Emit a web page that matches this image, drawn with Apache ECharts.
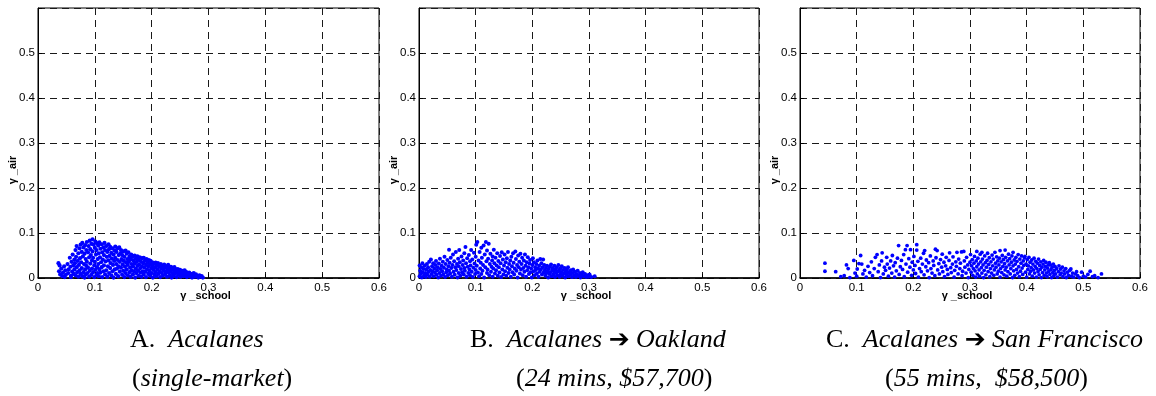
<!DOCTYPE html>
<html><head><meta charset="utf-8">
<script src="https://cdn.jsdelivr.net/npm/echarts@6/dist/echarts.min.js"></script>
<style>html,body{margin:0;padding:0;background:#fff}#c{width:1156px;height:396px}</style>
</head><body><div id="c"></div>
<script>
// ---------- data ----------
const xLabelName = 'γ _school';
const yLabelName = 'γ _air';
const xTickValues = [0, 0.1, 0.2, 0.3, 0.4, 0.5, 0.6];
const yTickValues = [0, 0.1, 0.2, 0.3, 0.4, 0.5];

const panelA = [
[0.036,0.033],[0.038,0.028],[0.037,0.015],[0.039,0.008],[0.041,0.021],[0.043,0.004],[0.044,0.012],[0.046,0.026],[0.048,0.017],[0.049,0.007],[0.047,0.002],[0.052,0.031],[0.053,0.011],[0.054,0.019],
[0.056,0.045],[0.057,0.025],[0.058,0.005],[0.059,0.036],[0.06,0.014],[0.061,0.052],[0.062,0.028],[0.063,0.009],[0.064,0.041],[0.064,0.019],[0.065,0.033],[0.058,0.002],
[0.066,0.062],[0.066,0.006],[0.067,0.047],[0.068,0.024],[0.068,0.071],[0.069,0.013],[0.07,0.038],[0.071,0.055],[0.071,0.003],[0.072,0.029],[0.073,0.066],[0.073,0.017],[0.074,0.044],[0.075,0.009],[0.075,0.074],
[0.076,0.035],[0.077,0.058],[0.077,0.022],[0.078,0.078],[0.078,0.004],[0.079,0.048],[0.08,0.013],[0.08,0.068],[0.081,0.031],[0.082,0.054],[0.082,0.001],[0.083,0.073],[0.083,0.019],[0.084,0.042],[0.085,0.062],[0.085,0.027],[0.084,0.008],
[0.086,0.08],[0.086,0.036],[0.087,0.011],[0.088,0.057],[0.088,0.023],[0.089,0.071],[0.09,0.046],[0.09,0.003],[0.091,0.083],[0.091,0.016],[0.092,0.064],[0.092,0.032],[0.093,0.051],[0.094,0.076],[0.094,0.007],[0.095,0.039],[0.095,0.021],
[0.096,0.086],[0.096,0.059],[0.097,0.013],[0.097,0.045],[0.098,0.074],[0.099,0.028],[0.099,0.002],[0.1,0.067],[0.1,0.036],[0.101,0.081],[0.101,0.018],[0.102,0.052],[0.103,0.007],[0.103,0.062],[0.104,0.024],[0.104,0.077],[0.105,0.042],[0.105,0.011],
[0.106,0.072],[0.106,0.031],[0.107,0.055],[0.107,0.004],[0.108,0.079],[0.108,0.019],[0.109,0.046],[0.11,0.065],[0.11,0.012],[0.111,0.035],[0.112,0.075],[0.112,0.024],[0.113,0.057],[0.113,0.002],[0.114,0.041],[0.115,0.068],[0.115,0.015],
[0.116,0.051],[0.116,0.028],[0.117,0.078],[0.118,0.008],[0.118,0.062],[0.119,0.037],[0.12,0.071],[0.12,0.017],[0.121,0.047],[0.122,0.003],[0.122,0.058],[0.123,0.026],[0.124,0.075],[0.124,0.039],[0.125,0.011],[0.125,0.064],
[0.126,0.049],[0.127,0.022],[0.127,0.069],[0.128,0.033],[0.129,0.006],[0.129,0.056],[0.13,0.043],[0.131,0.015],[0.131,0.066],[0.132,0.029],[0.133,0.052],[0.133,0.001],[0.134,0.038],[0.135,0.061],[0.135,0.019],
[0.136,0.07],[0.136,0.045],[0.137,0.009],[0.138,0.031],[0.138,0.058],[0.139,0.021],[0.14,0.066],[0.14,0.04],[0.141,0.004],[0.142,0.051],[0.142,0.026],[0.143,0.068],[0.144,0.014],[0.144,0.036],[0.145,0.055],
[0.146,0.062],[0.146,0.023],[0.147,0.042],[0.148,0.007],[0.148,0.051],[0.149,0.03],[0.15,0.059],[0.15,0.016],[0.151,0.038],[0.152,0.002],[0.152,0.047],[0.153,0.025],[0.154,0.061],[0.154,0.011],[0.155,0.034],
[0.156,0.054],[0.156,0.019],[0.157,0.042],[0.158,0.006],[0.158,0.029],[0.159,0.057],[0.16,0.036],[0.161,0.013],[0.161,0.048],[0.162,0.023],[0.163,0.003],[0.163,0.041],[0.164,0.052],[0.165,0.017],[0.165,0.031],
[0.166,0.047],[0.167,0.008],[0.167,0.026],[0.168,0.039],[0.169,0.015],[0.17,0.05],[0.17,0.032],[0.171,0.001],[0.172,0.043],[0.172,0.021],[0.173,0.011],[0.174,0.036],[0.175,0.048],[0.175,0.027],
[0.176,0.017],[0.177,0.041],[0.177,0.005],[0.178,0.03],[0.179,0.046],[0.18,0.022],[0.18,0.012],[0.181,0.037],[0.182,0.003],[0.183,0.044],[0.183,0.026],[0.184,0.015],[0.185,0.033],
[0.186,0.045],[0.186,0.008],[0.187,0.023],[0.188,0.038],[0.189,0.014],[0.19,0.029],[0.19,0.002],[0.191,0.042],[0.192,0.019],[0.193,0.034],[0.194,0.009],[0.194,0.026],[0.195,0.04],
[0.196,0.016],[0.197,0.031],[0.197,0.005],[0.198,0.038],[0.199,0.022],[0.2,0.011],[0.201,0.035],[0.201,0.027],[0.202,0.001],[0.203,0.018],[0.204,0.032],[0.205,0.008],
[0.206,0.024],[0.207,0.034],[0.207,0.013],[0.208,0.004],[0.209,0.029],[0.21,0.019],[0.211,0.033],[0.212,0.009],[0.213,0.025],[0.214,0.015],[0.215,0.002],
[0.216,0.031],[0.217,0.021],[0.218,0.011],[0.219,0.027],[0.22,0.005],[0.221,0.017],[0.222,0.03],[0.223,0.023],[0.224,0.009],[0.225,0.014],
[0.226,0.026],[0.227,0.003],[0.228,0.019],[0.229,0.029],[0.23,0.012],[0.231,0.022],[0.232,0.006],[0.233,0.016],[0.234,0.025],[0.235,0.001],
[0.236,0.011],[0.237,0.021],[0.238,0.004],[0.239,0.017],[0.24,0.024],[0.241,0.009],[0.242,0.014],[0.243,0.019],[0.244,0.002],[0.245,0.012],
[0.246,0.02],[0.247,0.007],[0.248,0.015],[0.249,0.01],[0.25,0.018],[0.251,0.003],[0.252,0.013],[0.254,0.008],[0.255,0.016],
[0.256,0.004],[0.257,0.011],[0.258,0.017],[0.26,0.007],[0.261,0.013],[0.262,0.002],[0.263,0.01],[0.265,0.006],
[0.266,0.012],[0.268,0.004],[0.269,0.009],[0.271,0.001],[0.272,0.007],[0.274,0.011],[0.276,0.003],[0.278,0.008],[0.28,0.005],[0.282,0.001],[0.284,0.006],[0.286,0.003],[0.288,0.004],[0.29,0.001]
];

const panelB = [
[0.001,0.028],[0.001,0.004],[0.002,0.016],[0.003,0.009],[0.004,0.024],[0.005,0.001],[0.006,0.033],[0.006,0.013],[0.008,0.02],[0.009,0.006],[0.01,0.027],
[0.011,0.011],[0.012,0.002],[0.013,0.019],[0.014,0.031],[0.015,0.007],[0.016,0.024],[0.017,0.014],[0.018,0.036],[0.019,0.003],[0.02,0.018],
[0.021,0.041],[0.022,0.009],[0.023,0.026],[0.024,0.015],[0.025,0.033],[0.026,0.004],[0.027,0.021],[0.028,0.012],[0.029,0.029],[0.03,0.038],
[0.031,0.007],[0.032,0.017],[0.033,0.024],[0.034,0.001],[0.035,0.032],[0.036,0.011],[0.037,0.043],[0.038,0.02],[0.039,0.005],[0.04,0.027],
[0.041,0.015],[0.042,0.036],[0.043,0.008],[0.044,0.023],[0.045,0.047],[0.046,0.002],[0.047,0.031],[0.048,0.013],[0.049,0.019],[0.05,0.04],
[0.051,0.006],[0.052,0.026],[0.053,0.063],[0.053,0.016],[0.054,0.034],[0.055,0.01],[0.056,0.045],[0.057,0.022],[0.058,0.003],[0.059,0.029],[0.06,0.052],
[0.061,0.014],[0.062,0.037],[0.063,0.007],[0.064,0.024],[0.065,0.058],[0.066,0.018],[0.067,0.031],[0.068,0.001],[0.069,0.043],[0.07,0.011],[0.07,0.026],
[0.071,0.062],[0.072,0.035],[0.073,0.005],[0.074,0.02],[0.075,0.048],[0.076,0.013],[0.077,0.029],[0.078,0.039],[0.079,0.008],[0.08,0.055],[0.08,0.022],
[0.081,0.016],[0.082,0.069],[0.083,0.033],[0.084,0.003],[0.085,0.044],[0.086,0.025],[0.087,0.011],[0.088,0.051],[0.089,0.019],[0.09,0.037],[0.09,0.006],
[0.091,0.028],[0.092,0.062],[0.093,0.014],[0.094,0.041],[0.095,0.002],[0.096,0.023],[0.097,0.056],[0.098,0.032],[0.099,0.009],[0.1,0.047],[0.1,0.018],
[0.101,0.074],[0.102,0.027],[0.103,0.08],[0.104,0.012],[0.105,0.039],[0.106,0.004],[0.107,0.058],[0.108,0.021],[0.109,0.034],[0.11,0.067],[0.11,0.009],
[0.111,0.045],[0.112,0.016],[0.113,0.029],[0.114,0.072],[0.115,0.001],[0.116,0.052],[0.117,0.024],[0.118,0.08],[0.119,0.037],[0.12,0.011],[0.12,0.061],
[0.121,0.019],[0.122,0.043],[0.123,0.076],[0.124,0.006],[0.125,0.031],[0.126,0.054],[0.127,0.014],[0.128,0.025],[0.129,0.039],[0.13,0.003],[0.13,0.048],
[0.131,0.021],[0.132,0.063],[0.133,0.033],[0.134,0.01],[0.135,0.045],[0.136,0.017],[0.137,0.028],[0.138,0.055],[0.139,0.005],[0.14,0.038],
[0.141,0.024],[0.142,0.012],[0.143,0.049],[0.144,0.033],[0.145,0.002],[0.146,0.057],[0.147,0.019],[0.148,0.041],[0.149,0.008],[0.15,0.028],
[0.151,0.052],[0.152,0.015],[0.153,0.035],[0.154,0.005],[0.155,0.044],[0.156,0.023],[0.157,0.058],[0.158,0.011],[0.159,0.031],[0.16,0.019],
[0.161,0.039],[0.162,0.003],[0.163,0.047],[0.164,0.026],[0.165,0.013],[0.166,0.055],[0.167,0.034],[0.168,0.008],[0.169,0.021],[0.17,0.059],
[0.171,0.042],[0.172,0.016],[0.173,0.029],[0.174,0.001],[0.175,0.05],[0.176,0.024],[0.177,0.036],[0.178,0.01],[0.179,0.054],[0.18,0.019],
[0.181,0.031],[0.182,0.045],[0.183,0.006],[0.184,0.022],[0.185,0.039],[0.186,0.014],[0.187,0.052],[0.188,0.027],[0.189,0.003],[0.19,0.035],
[0.191,0.017],[0.192,0.046],[0.193,0.024],[0.194,0.009],[0.195,0.032],[0.196,0.04],[0.197,0.013],[0.198,0.021],[0.199,0.001],[0.2,0.029],
[0.201,0.044],[0.202,0.015],[0.203,0.035],[0.204,0.006],[0.205,0.024],[0.206,0.018],[0.207,0.031],[0.208,0.01],[0.209,0.039],[0.21,0.021],
[0.211,0.003],[0.212,0.027],[0.213,0.014],[0.214,0.042],[0.215,0.019],[0.216,0.033],[0.217,0.008],[0.218,0.024],[0.219,0.041],[0.22,0.012],
[0.221,0.029],[0.222,0.017],[0.223,0.005],[0.224,0.022],[0.225,0.011],[0.226,0.027],[0.227,0.015],[0.228,0.001],[0.229,0.02],[0.23,0.009],
[0.231,0.025],[0.232,0.013],[0.233,0.03],[0.234,0.004],[0.235,0.018],[0.236,0.022],[0.237,0.008],[0.238,0.015],[0.239,0.027],[0.24,0.002],
[0.241,0.019],[0.242,0.011],[0.243,0.024],[0.244,0.006],[0.245,0.014],[0.246,0.029],[0.247,0.017],[0.248,0.003],[0.249,0.021],[0.25,0.009],
[0.251,0.013],[0.252,0.026],[0.253,0.005],[0.254,0.018],[0.256,0.01],[0.257,0.022],[0.258,0.001],[0.259,0.015],[0.26,0.007],
[0.261,0.019],[0.262,0.011],[0.263,0.024],[0.264,0.004],[0.266,0.014],[0.267,0.008],[0.268,0.017],[0.27,0.002],
[0.271,0.011],[0.272,0.019],[0.274,0.006],[0.275,0.014],[0.277,0.002],[0.278,0.009],[0.28,0.016],[0.282,0.005],[0.284,0.011],[0.285,0.001],[0.287,0.008],[0.289,0.013],[0.291,0.004],[0.293,0.009],[0.295,0.002],[0.297,0.006],[0.299,0.003],[0.301,0.008],[0.304,0.002],[0.31,0.004]
];

const panelC = [
[0.044,0.033],[0.044,0.015],[0.063,0.014],[0.072,0.003],[0.078,0.005],[0.082,0.029],[0.085,0.021],[0.088,0.001],[0.095,0.039],[0.097,0.011],[0.1,0.004],
[0.101,0.02],[0.104,0.032],[0.107,0.05],[0.109,0.031],[0.111,0.009],[0.114,0.017],[0.117,0.002],[0.12,0.026],[0.123,0.012],[0.126,0.036],[0.128,0.005],[0.131,0.021],[0.133,0.046],[0.136,0.052],[0.138,0.014],[0.14,0.029],[0.142,0.001],[0.144,0.038],[0.145,0.056],[0.147,0.009],[0.149,0.024],
[0.151,0.017],[0.153,0.046],[0.154,0.031],[0.156,0.004],[0.158,0.022],[0.16,0.038],[0.162,0.011],[0.163,0.05],[0.165,0.027],[0.167,0.002],[0.168,0.034],[0.17,0.016],[0.172,0.044],[0.174,0.072],[0.175,0.008],[0.177,0.025],[0.179,0.039],[0.181,0.019],[0.183,0.052],[0.184,0.003],[0.186,0.063],[0.187,0.031],[0.189,0.072],[0.19,0.013],[0.192,0.043],[0.194,0.024],[0.195,0.063],[0.197,0.006],[0.198,0.035],[0.2,0.018],
[0.201,0.048],[0.203,0.028],[0.204,0.01],[0.206,0.074],[0.206,0.062],[0.208,0.037],[0.209,0.002],[0.211,0.021],[0.213,0.044],[0.214,0.014],[0.216,0.031],[0.218,0.055],[0.219,0.007],[0.22,0.061],[0.222,0.025],[0.223,0.04],[0.225,0.016],[0.227,0.034],[0.228,0.001],[0.23,0.049],[0.231,0.021],[0.233,0.011],[0.235,0.038],[0.236,0.028],[0.238,0.005],[0.239,0.064],[0.24,0.045],[0.242,0.061],[0.243,0.018],[0.245,0.032],[0.246,0.009],[0.248,0.041],[0.25,0.024],
[0.251,0.053],[0.252,0.014],[0.254,0.035],[0.255,0.003],[0.257,0.027],[0.258,0.046],[0.26,0.019],[0.261,0.008],[0.263,0.039],[0.264,0.056],[0.266,0.023],[0.267,0.012],[0.269,0.031],[0.27,0.047],[0.272,0.002],[0.273,0.017],[0.275,0.036],[0.276,0.026],[0.277,0.057],[0.279,0.009],[0.28,0.042],[0.282,0.021],[0.283,0.033],[0.285,0.058],[0.286,0.005],[0.287,0.015],[0.289,0.059],[0.29,0.038],[0.291,0.024],[0.293,0.011],[0.294,0.046],[0.296,0.029],[0.297,0.001],[0.298,0.019],[0.3,0.035],
[0.301,0.052],[0.302,0.013],[0.303,0.027],[0.304,0.041],[0.305,0.006],[0.306,0.021],[0.307,0.033],[0.308,0.048],[0.309,0.016],[0.31,0.002],[0.311,0.038],[0.312,0.059],[0.312,0.025],[0.313,0.009],[0.314,0.044],[0.315,0.031],[0.316,0.018],[0.317,0.004],[0.318,0.053],[0.319,0.036],[0.32,0.023],[0.321,0.057],[0.321,0.011],[0.322,0.042],[0.323,0.029],[0.324,0.001],[0.325,0.017],[0.326,0.049],[0.327,0.034],[0.328,0.007],[0.329,0.024],[0.33,0.039],[0.331,0.055],[0.332,0.014],[0.333,0.03],[0.334,0.045],[0.335,0.003],[0.336,0.021],[0.337,0.036],[0.338,0.011],[0.339,0.051],[0.34,0.027],[0.341,0.042],[0.342,0.006],[0.343,0.018],[0.344,0.057],[0.345,0.033],[0.346,0.024],[0.347,0.047],[0.348,0.009],[0.349,0.038],[0.35,0.015],
[0.351,0.029],[0.352,0.044],[0.353,0.061],[0.353,0.002],[0.354,0.021],[0.355,0.036],[0.356,0.012],[0.357,0.05],[0.358,0.026],[0.359,0.041],[0.36,0.007],[0.361,0.032],[0.362,0.062],[0.362,0.018],[0.363,0.046],[0.364,0.024],[0.365,0.004],[0.366,0.038],[0.367,0.014],[0.368,0.053],[0.369,0.029],[0.37,0.043],[0.371,0.009],[0.372,0.021],[0.373,0.035],[0.374,0.049],[0.375,0.001],[0.376,0.057],[0.376,0.027],[0.377,0.016],[0.378,0.04],[0.379,0.006],[0.38,0.031],[0.381,0.046],[0.382,0.019],[0.383,0.037],[0.384,0.011],[0.385,0.052],[0.386,0.025],[0.387,0.003],[0.388,0.042],[0.389,0.015],[0.39,0.033],[0.391,0.049],[0.392,0.022],[0.393,0.008],[0.394,0.038],[0.395,0.028],[0.396,0.045],[0.397,0.048],[0.398,0.013],[0.399,0.031],[0.4,0.002],
[0.401,0.041],[0.402,0.019],[0.403,0.027],[0.404,0.046],[0.405,0.009],[0.406,0.035],[0.407,0.015],[0.408,0.023],[0.409,0.04],[0.41,0.004],[0.411,0.031],[0.412,0.018],[0.413,0.044],[0.414,0.011],[0.415,0.026],[0.416,0.037],[0.417,0.002],[0.418,0.021],[0.419,0.033],[0.42,0.014],[0.421,0.042],[0.422,0.007],[0.423,0.028],[0.424,0.019],[0.425,0.036],[0.426,0.001],[0.427,0.024],[0.428,0.012],[0.429,0.031],[0.43,0.039],[0.431,0.006],[0.432,0.018],[0.433,0.026],[0.434,0.035],[0.435,0.011],[0.436,0.003],[0.437,0.022],[0.438,0.029],[0.439,0.015],[0.44,0.034],[0.441,0.008],[0.442,0.029],[0.443,0.019],[0.444,0.001],[0.445,0.024],[0.446,0.012],[0.447,0.031],[0.448,0.005],[0.449,0.017],[0.45,0.026],
[0.451,0.009],[0.453,0.021],[0.454,0.002],[0.456,0.014],[0.457,0.027],[0.459,0.007],[0.46,0.02],[0.461,0.011],[0.463,0.024],[0.464,0.003],[0.466,0.016],[0.467,0.009],[0.469,0.021],[0.47,0.001],[0.472,0.013],[0.474,0.006],[0.476,0.017],[0.478,0.02],[0.479,0.004],[0.481,0.011],[0.483,0.002],[0.486,0.009],[0.488,0.014],[0.49,0.005],[0.493,0.001],[0.497,0.013],[0.5,0.004],[0.504,0.002],[0.508,0.008],[0.512,0.015],[0.516,0.003],[0.52,0.005],[0.526,0.001],[0.532,0.009]
];

const captionLetters = ['A.', 'B.', 'C.'];
const captionFrom = ['Acalanes', 'Acalanes', 'Acalanes'];
const captionTo = [null, 'Oakland', 'San Francisco'];
const captionSub = ['single-market', '24 mins, $57,700', '55 mins,  $58,500'];

// ---------- layout ----------
const panels = [
  {left: 38, width: 341, data: panelA, size: 4.2, cap1X: 130, cap2X: 132},
  {left: 419, width: 340, data: panelB, size: 4.0, cap1X: 470, cap2X: 516},
  {left: 800, width: 340, data: panelC, size: 3.8, cap1X: 826, cap2X: 885}
];
const TOP = 8, H = 270;

function fmt(v){ return v === 0 ? '0' : String(Math.round(v * 10) / 10); }

const tickFont = {fontFamily: 'Liberation Sans, Arial, sans-serif', fontSize: 11.5, color: '#000'};
const dash = {color: '#1a1a1a', width: 1, type: [7, 5]};

const grids = [], xAxes = [], yAxes = [], series = [], graphics = [];
panels.forEach((p, i) => {
  grids.push({left: p.left, top: TOP, width: p.width, height: H, containLabel: false, outerBoundsMode: 'none',
    show: true, borderColor: '#000', borderWidth: 1, backgroundColor: '#fff'});
  xAxes.push({type: 'value', gridIndex: i, min: 0, max: 0.6, interval: 0.1,
    axisLine: {show: true, onZero: false, lineStyle: {color: '#000', width: 1.5}},
    axisTick: {show: true, inside: true, length: 4, lineStyle: {color: '#000'}},
    axisLabel: Object.assign({margin: 4, formatter: fmt}, tickFont),
    splitLine: {show: true, lineStyle: dash}});
  yAxes.push({type: 'value', gridIndex: i, min: 0, max: 0.6, interval: 0.1,
    axisLine: {show: true, onZero: false, lineStyle: {color: '#000', width: 1}},
    axisTick: {show: true, inside: true, length: 4, lineStyle: {color: '#000'}},
    axisLabel: Object.assign({margin: 3, formatter: v => (Math.abs(v - 0.6) < 1e-9 ? '' : fmt(v))}, tickFont),
    splitLine: {show: true, lineStyle: dash}});
  series.push({type: 'scatter', xAxisIndex: i, yAxisIndex: i, data: p.data, symbol: 'circle',
    symbolSize: p.size, itemStyle: {color: '#0000ff', opacity: 1}, clip: false, silent: true, z: 1});

  // axis names
  graphics.push({type: 'text', x: p.left + p.width / 2 - 3, y: 296,
    style: {text: xLabelName, font: 'bold 11px "Liberation Sans", Arial, sans-serif', fill: '#000',
      textAlign: 'center', textVerticalAlign: 'middle'}});
  graphics.push({type: 'text', x: p.left - 25, y: 170, rotation: Math.PI / 2,
    style: {text: yLabelName, font: 'bold 11px "Liberation Sans", Arial, sans-serif', fill: '#000',
      textAlign: 'center', textVerticalAlign: 'middle'}});

  // captions
  let line1 = '{n|' + captionLetters[i] + '  }{i|' + captionFrom[i] + '}';
  if (captionTo[i]) line1 += '{n| }{ar|➔}{n| }{i|' + captionTo[i] + '}';
  const line2 = '{n|(}{i|' + captionSub[i] + '}{n|)}';
  const rich = {
    n: {fontFamily: 'Liberation Serif, Times New Roman, serif', fontSize: 26, color: '#000'},
    i: {fontFamily: 'Liberation Serif, Times New Roman, serif', fontStyle: 'italic', fontSize: 26, color: '#000'},
    ar: {fontFamily: 'DejaVu Sans, sans-serif', fontWeight: 'bold', fontSize: 25, color: '#000'}
  };
  graphics.push({type: 'text', x: p.cap1X, y: 340,
    style: {text: line1, rich: rich, textAlign: 'left', textVerticalAlign: 'middle'}});
  graphics.push({type: 'text', x: p.cap2X, y: 379,
    style: {text: line2, rich: rich, textAlign: 'left', textVerticalAlign: 'middle'}});
});

const chart = echarts.init(document.getElementById('c'), null, {renderer: 'canvas'});
chart.setOption({
  animation: false,
  backgroundColor: '#fff',
  grid: grids, xAxis: xAxes, yAxis: yAxes, series: series,
  graphic: graphics
});
</script>
</body></html>
